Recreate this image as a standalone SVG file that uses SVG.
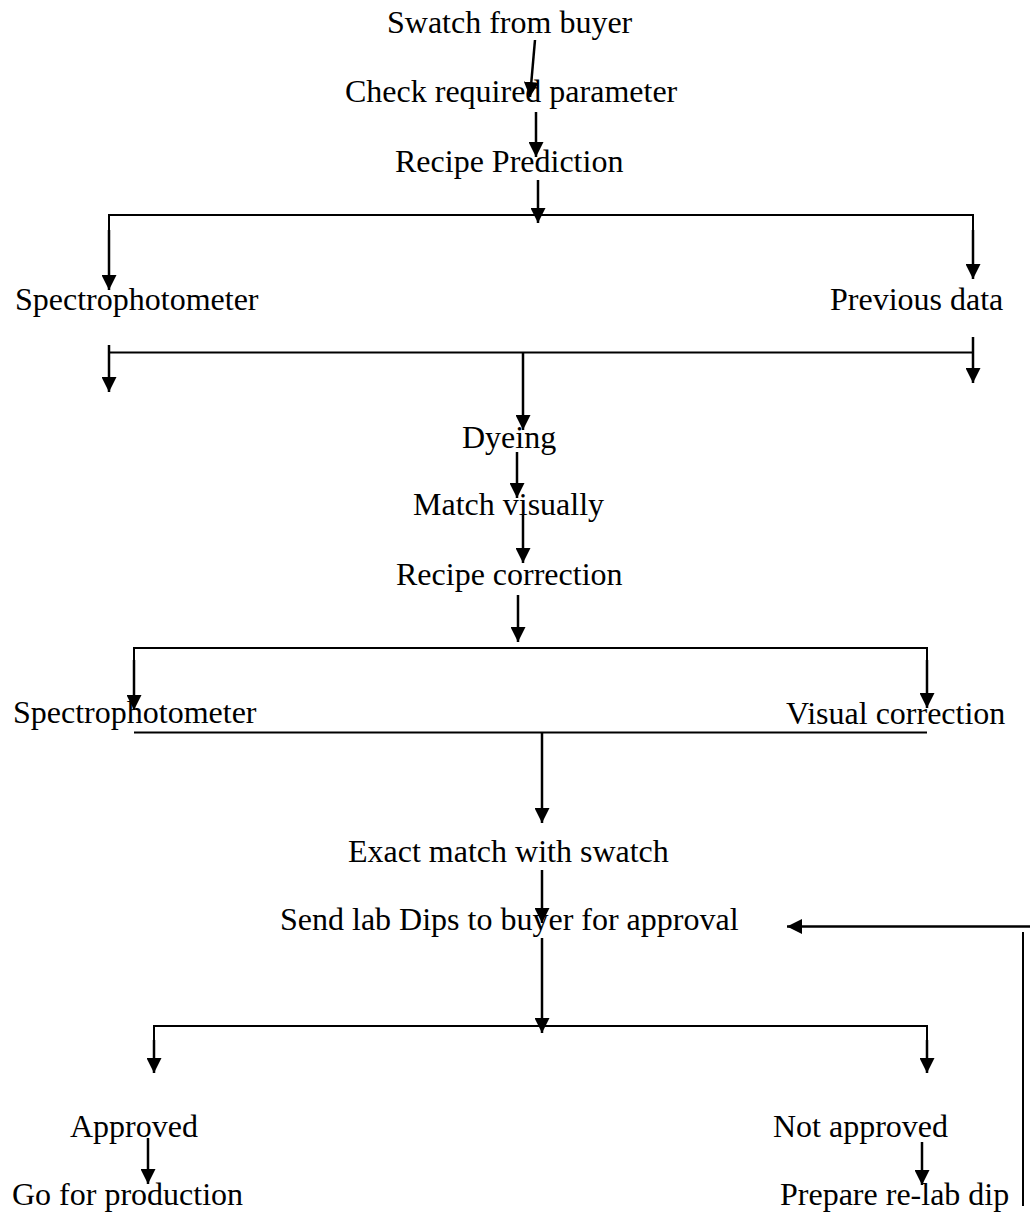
<svg xmlns="http://www.w3.org/2000/svg" width="1030" height="1214" viewBox="0 0 1030 1214">
  <style>
    .lbl { font-family: "Liberation Serif", "Times New Roman", serif; font-size: 32px; fill: #000; }
    .ln { stroke: #000; stroke-width: 2; fill: none; }
    .ar { stroke: #000; stroke-width: 2.5; fill: none; marker-end: url(#head); }
  </style>
  <defs>
    <marker id="head" viewBox="0 0 10 10" refX="10" refY="5" markerWidth="15" markerHeight="15" markerUnits="userSpaceOnUse" orient="auto">
      <path d="M0,0 L10,5 L0,10 z" fill="#000"/>
    </marker>
  </defs>

  <rect width="1030" height="1214" fill="#fff"/>

  <!-- process steps -->
  <g id="swatch"><text class="lbl" x="387" y="33">Swatch from buyer</text></g>
  <g id="check"><text class="lbl" x="345" y="102">Check required parameter</text></g>
  <g id="predict"><text class="lbl" x="395" y="172">Recipe Prediction</text></g>
  <g id="spectro1"><text class="lbl" x="15" y="310">Spectrophotometer</text></g>
  <g id="previous"><text class="lbl" x="830" y="310">Previous data</text></g>
  <g id="dyeing"><text class="lbl" x="462" y="448">Dyeing</text></g>
  <g id="match"><text class="lbl" x="413" y="515">Match visually</text></g>
  <g id="correction"><text class="lbl" x="396" y="585">Recipe correction</text></g>
  <g id="spectro2"><text class="lbl" x="13" y="723">Spectrophotometer</text></g>
  <g id="visual"><text class="lbl" x="786" y="724">Visual correction</text></g>
  <g id="exact"><text class="lbl" x="348" y="862">Exact match with swatch</text></g>
  <g id="send"><text class="lbl" x="280" y="930">Send lab Dips to buyer for approval</text></g>
  <g id="approved"><text class="lbl" x="70" y="1137">Approved</text></g>
  <g id="notapproved"><text class="lbl" x="773" y="1137">Not approved</text></g>
  <g id="production"><text class="lbl" x="12" y="1205">Go for production</text></g>
  <g id="relab"><text class="lbl" x="780" y="1205">Prepare re-lab dip</text></g>

  <!-- connectors -->
  <g id="connectors">
    <line class="ar" x1="535" y1="40" x2="530" y2="97"/>
    <line class="ar" x1="536" y1="112" x2="536" y2="157"/>
    <line class="ar" x1="538" y1="180" x2="538" y2="223"/>

    <!-- split to spectrophotometer / previous data -->
    <polyline class="ln" points="109,289 109,215 973,215 973,279"/>
    <line class="ar" x1="109" y1="230" x2="109" y2="290"/>
    <line class="ar" x1="973" y1="230" x2="973" y2="279"/>

    <!-- merge bar -->
    <line class="ln" x1="109" y1="352.5" x2="973" y2="352.5"/>
    <line class="ar" x1="109" y1="345" x2="109" y2="392"/>
    <line class="ar" x1="973" y1="337" x2="973" y2="383"/>
    <line class="ar" x1="523" y1="352" x2="523" y2="430"/>

    <line class="ar" x1="517" y1="452" x2="517" y2="498"/>
    <line class="ar" x1="523" y1="515" x2="523" y2="563"/>
    <line class="ar" x1="518" y1="595" x2="518" y2="642"/>

    <!-- split to spectrophotometer / visual correction -->
    <polyline class="ln" points="134,700 134,648 927,648 927,700"/>
    <line class="ar" x1="134" y1="660" x2="134" y2="710"/>
    <line class="ar" x1="927" y1="660" x2="927" y2="708"/>
    <line class="ln" x1="134" y1="732.5" x2="927" y2="732.5"/>
    <line class="ar" x1="542" y1="732" x2="542" y2="823"/>

    <line class="ar" x1="542" y1="870" x2="542" y2="923"/>

    <!-- approval split -->
    <line class="ar" x1="542" y1="938" x2="542" y2="1033"/>
    <polyline class="ln" points="154,1065 154,1026 927,1026 927,1065"/>
    <line class="ar" x1="154" y1="1040" x2="154" y2="1073"/>
    <line class="ar" x1="927" y1="1040" x2="927" y2="1073"/>
    <line class="ar" x1="148" y1="1138" x2="148" y2="1184"/>
    <line class="ar" x1="922" y1="1142" x2="922" y2="1185"/>

    <!-- re-lab dip loop back -->
    <line class="ln" x1="1023" y1="932" x2="1023" y2="1206"/>
    <line class="ar" x1="1030" y1="926.5" x2="787" y2="926.5"/>
  </g>
</svg>
